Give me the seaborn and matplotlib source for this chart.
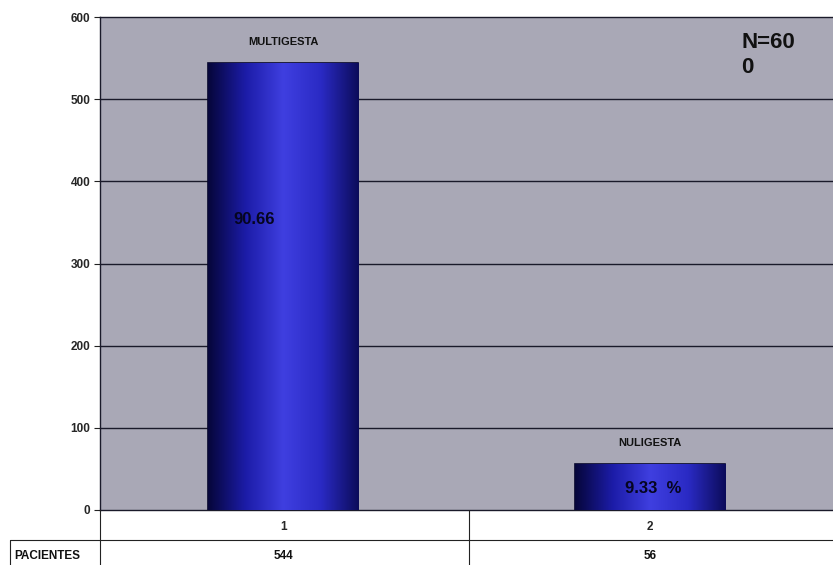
import numpy as np
import pandas as pd
import matplotlib
matplotlib.use("Agg")
import matplotlib.pyplot as plt
from matplotlib.colors import LinearSegmentedColormap
from matplotlib.lines import Line2D
import seaborn as sns

categories = ["1", "2"]
group_names = ["MULTIGESTA", "NULIGESTA"]
patients = [544, 56]
pct_labels = ["90.66", "9.33  %"]
row_label = "PACIENTES"
total_label = "N=60\n0"
yticks = [0, 100, 200, 300, 400, 500, 600]

sns.set_theme(style="white")
plt.rcParams["font.family"] = ["Liberation Sans", "DejaVu Sans"]

df = pd.DataFrame({"cat": categories, "n": patients})

W, H = 833, 565
fig = plt.figure(figsize=(W / 100, H / 100), dpi=100)
ax = fig.add_axes([100 / W, (H - 510) / H, 733 / W, (510 - 17) / H])
ax.set_facecolor("#a9a8b6")

sns.barplot(data=df, x="cat", y="n", ax=ax, width=0.41, color="#2a2ab8",
            edgecolor="#05052a", linewidth=1.2, zorder=3)

# horizontal gradient fill for each bar: dark edges, bright center
cmap = LinearSegmentedColormap.from_list(
    "bar", ["#06063a", "#1c1ca8", "#3f3fe0", "#2a2ac4", "#0c0c5a"])
grad = np.linspace(0, 1, 256).reshape(1, -1)
for p in ax.patches:
    x0, y0 = p.get_x(), p.get_y()
    w, h = p.get_width(), p.get_height()
    im = ax.imshow(grad, cmap=cmap, aspect="auto",
                   extent=[x0, x0 + w, y0, y0 + h], zorder=3.5)
    im.set_clip_path(p)

ax.set_xlim(-0.5, 1.5)
ax.set_ylim(0, 600)
ax.set_yticks(yticks)
ax.set_yticklabels([str(t) for t in yticks], fontsize=8.5, fontweight="bold")
ax.tick_params(axis="y", length=4, width=0.8, color="#222", pad=3, left=True)
ax.set_xticks([0, 1])
ax.set_xticklabels(categories, fontsize=8.5, fontweight="bold")
ax.tick_params(axis="x", length=0, pad=8)
ax.set_xlabel("")
ax.set_ylabel("")
for t in yticks[1:-1]:
    ax.axhline(t, color="#1a1a2a", lw=1.0, zorder=1)
for s in ["top", "left", "bottom"]:
    ax.spines[s].set_color("#1a1a2a")
    ax.spines[s].set_linewidth(1.0)
ax.spines["right"].set_visible(False)

for i, (name, v) in enumerate(zip(group_names, patients)):
    ax.text(i, v + 20, name, ha="center", va="bottom", fontsize=8,
            fontweight="bold", color="#111", zorder=5)

ax.text(-0.08, 353, pct_labels[0], ha="center", va="center", fontsize=12,
        fontweight="bold", color="#050520", zorder=5)
ax.text(1.01, patients[1] / 2 - 2, pct_labels[1], ha="center", va="center",
        fontsize=12, fontweight="bold", color="#050520", zorder=5)

ax.text(0.875, 0.97, total_label, transform=ax.transAxes, ha="left",
        va="top", fontsize=16, fontweight="heavy", color="#111",
        linespacing=1.25, zorder=5)

# data table under the axis
def fx(px):
    return px / W

def fy(py):
    return 1 - py / H

lc = "#222"
fig.add_artist(Line2D([fx(10), fx(833)], [fy(540), fy(540)], color=lc, lw=0.8))
fig.add_artist(Line2D([fx(100), fx(100)], [fy(510), fy(565)], color=lc, lw=0.8))
fig.add_artist(Line2D([fx(469), fx(469)], [fy(510), fy(565)], color=lc, lw=0.8))
fig.add_artist(Line2D([fx(10), fx(10)], [fy(540), fy(565)], color=lc, lw=0.8))
fig.text(fx(14), fy(556), row_label, ha="left", va="center", fontsize=8.5,
         fontweight="bold", color="#111")
for i, v in enumerate(patients):
    xc = ax.transData.transform((i, 0))[0] / W
    fig.text(xc, fy(556), str(v), ha="center", va="center", fontsize=8.5,
             fontweight="bold", color="#111")

fig.savefig("out.png", dpi=100)
